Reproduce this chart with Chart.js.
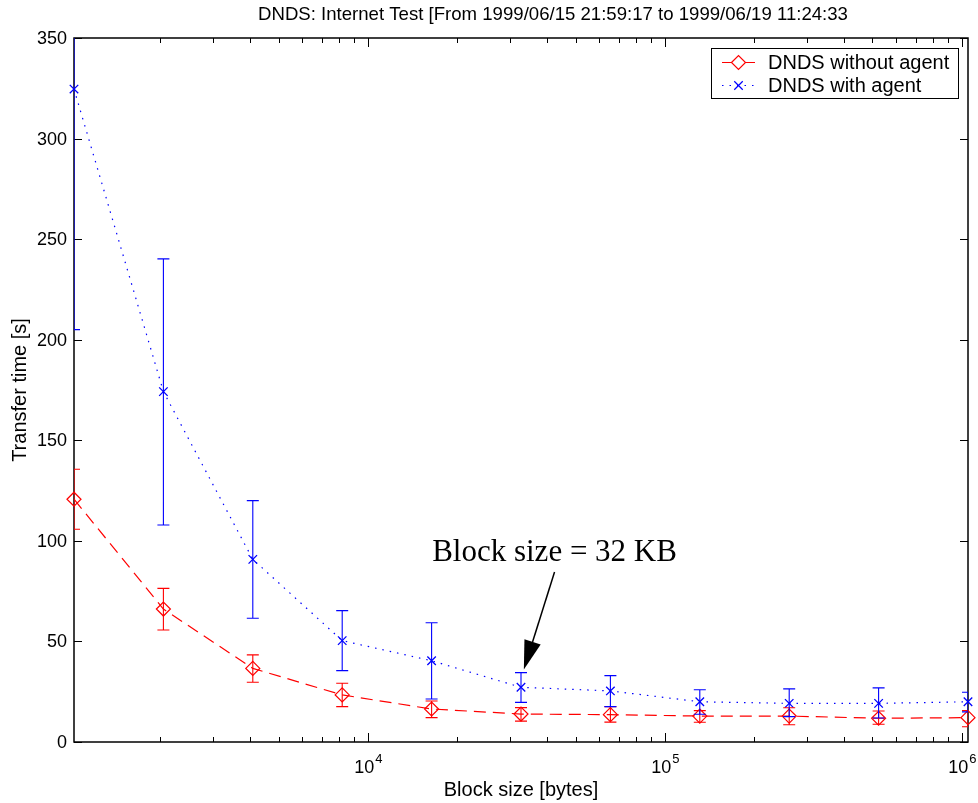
<!DOCTYPE html>
<html>
<head>
<meta charset="utf-8">
<script src="https://cdn.jsdelivr.net/npm/chart.js@4.4.0/dist/chart.umd.min.js"></script>
<style>
  html, body { margin: 0; padding: 0; background: #fff; }
  #wrap { width: 978px; height: 803px; }
</style>
</head>
<body>
<div id="wrap"><canvas id="chart" width="978" height="803"></canvas></div>
<script>
// block sizes in bytes, 1 KB .. 1 MB
const blockSizes = [1024, 2048, 4096, 8192, 16384, 32768, 65536, 131072, 262144, 524288, 1048576]

// transfer time [s]: mean and error bar ends
const noAgentMean = [120.7, 66.1, 36.6, 23.4, 16.4, 13.9, 13.6, 12.9, 12.9, 11.8, 12.1]
const noAgentLow  = [105.8, 55.7, 29.7, 17.6, 12.1, 10.4, 9.9, 9.8, 8.6, 8.8, 7.6]
const noAgentHigh = [135.6, 76.4, 43.3, 29.2, 20.4, 17.1, 17.6, 15.6, 17.0, 15.4, 15.6]

const agentMean = [324.6, 174.2, 90.8, 50.4, 40.4, 27.2, 25.4, 20.0, 19.2, 19.2, 20.0]
const agentLow  = [205.0, 107.9, 61.5, 35.5, 21.4, 19.7, 17.6, 13.8, 12.6, 11.9, 15.0]
const agentHigh = [445.0, 240.2, 120.0, 65.3, 59.3, 34.5, 33.0, 26.0, 26.4, 26.9, 24.7]

const seriesNames = ['DNDS without agent', 'DNDS with agent']
const yTicks = [0, 50, 100, 150, 200, 250, 300, 350]
const xDecades = [4, 5, 6]

const titleText = 'DNDS: Internet Test [From 1999/06/15 21:59:17 to 1999/06/19 11:24:33'
const noteText = 'Block size = 32 KB'
// annotation arrow, in data units
const noteAt = {x: 42500, y: 90}
const arrowFrom = {x: 42500, y: 84.5}
const arrowTo = {x: 33500, y: 36}

const SANS = '"Liberation Sans", Arial, Helvetica, sans-serif'
const SERIF = '"Liberation Serif", "Times New Roman", serif'

function toPoints(ys){
    return blockSizes.map((x, i) => ({x: x, y: ys[i]}))
}

// minor ticks at 2..9 x 10^k inside the axis range
function minorTicks(min, max){
    let out = []
    for(let e = 3; e <= 6; e++){
        for(let m = 1; m <= 9; m++){
            let v = m * Math.pow(10, e)
            if(v >= min && v <= max) out.push({v: v, major: m == 1})
        }
    }
    return out
}

const matlabAxes = {
    id: 'matlabAxes',
    beforeDatasetsDraw(chart){
        let ctx = chart.ctx
        let a = chart.chartArea
        let xs = chart.scales.x, ys = chart.scales.y
        ctx.save()
        ctx.strokeStyle = '#000'
        ctx.lineWidth = 1.5
        ctx.strokeRect(a.left, a.top, a.right - a.left, a.bottom - a.top)

        ctx.lineWidth = 1
        ctx.beginPath()
        for(let t of yTicks){
            let py = Math.round(ys.getPixelForValue(t)) + 0.5
            ctx.moveTo(a.left, py); ctx.lineTo(a.left + 8, py)
            ctx.moveTo(a.right, py); ctx.lineTo(a.right - 8, py)
        }
        for(let t of minorTicks(xs.min, xs.max)){
            let px = Math.round(xs.getPixelForValue(t.v)) + 0.5
            let len = t.major ? 9 : 5
            ctx.moveTo(px, a.bottom); ctx.lineTo(px, a.bottom - len)
            ctx.moveTo(px, a.top); ctx.lineTo(px, a.top + len)
        }
        ctx.stroke()

        // tick labels
        ctx.fillStyle = '#000'
        ctx.font = '18px ' + SANS
        ctx.textAlign = 'right'
        ctx.textBaseline = 'middle'
        for(let t of yTicks){
            ctx.fillText(String(t), a.left - 7, ys.getPixelForValue(t) + 1)
        }
        ctx.textBaseline = 'alphabetic'
        ctx.textAlign = 'left'
        for(let e of xDecades){
            let px = xs.getPixelForValue(Math.pow(10, e))
            ctx.font = '18px ' + SANS
            let wBase = ctx.measureText('10').width
            ctx.font = '13px ' + SANS
            let wExp = ctx.measureText(String(e)).width
            let x0 = px - (wBase + wExp) / 2
            ctx.font = '18px ' + SANS
            ctx.fillText('10', x0, a.bottom + 31)
            ctx.font = '13px ' + SANS
            ctx.fillText(String(e), x0 + wBase + 1, a.bottom + 21)
        }

        // title and axis labels
        let midX = (a.left + a.right) / 2
        ctx.textAlign = 'center'
        ctx.font = '18.6px ' + SANS
        ctx.fillText(titleText, 553, 20)
        ctx.font = '20px ' + SANS
        ctx.fillText('Block size [bytes]', midX, 796)
        ctx.save()
        ctx.translate(26, (a.top + a.bottom) / 2)
        ctx.rotate(-Math.PI / 2)
        ctx.fillText('Transfer time [s]', 0, 0)
        ctx.restore()
        ctx.restore()
    },
    afterDatasetsDraw(chart){
        let ctx = chart.ctx
        let a = chart.chartArea
        let xs = chart.scales.x, ys = chart.scales.y

        // error bars, clipped to the axes box
        ctx.save()
        ctx.beginPath()
        ctx.rect(a.left, a.top, a.right - a.left, a.bottom - a.top)
        ctx.clip()
        ctx.lineWidth = 1.1
        ctx.setLineDash([])
        chart.data.datasets.forEach(ds => {
            ctx.strokeStyle = ds.borderColor
            ctx.beginPath()
            blockSizes.forEach((b, i) => {
                let px = xs.getPixelForValue(b)
                let lo = ys.getPixelForValue(ds.errLow[i])
                let hi = ys.getPixelForValue(ds.errHigh[i])
                ctx.moveTo(px, lo); ctx.lineTo(px, hi)
                ctx.moveTo(px - 6, lo); ctx.lineTo(px + 6, lo)
                ctx.moveTo(px - 6, hi); ctx.lineTo(px + 6, hi)
            })
            ctx.stroke()
        })
        ctx.restore()
    },
    afterDraw(chart){
        let ctx = chart.ctx
        let xs = chart.scales.x, ys = chart.scales.y
        ctx.save()

        // legend box
        let lx = 711, ly = 48, lw = 247, lh = 50
        ctx.fillStyle = '#fff'
        ctx.fillRect(lx, ly, lw, lh)
        ctx.strokeStyle = '#000'
        ctx.lineWidth = 1
        ctx.strokeRect(lx + 0.5, ly + 0.5, lw, lh)
        chart.data.datasets.forEach((ds, i) => {
            let rowY = ly + 14 + i * 23 + 0.5
            ctx.strokeStyle = ds.borderColor
            ctx.lineWidth = 1.2
            ctx.setLineDash(i == 0 ? [] : [1.5, 6])
            ctx.beginPath()
            ctx.moveTo(722, rowY); ctx.lineTo(755, rowY)
            ctx.stroke()
            ctx.setLineDash([])
            Chart.helpers.drawPoint(ctx, {
                pointStyle: ds.pointStyle, radius: ds.pointRadius, borderWidth: 1.2
            }, 738.5, rowY)
            ctx.fillStyle = '#000'
            ctx.font = '20px ' + SANS
            ctx.textAlign = 'left'
            ctx.textBaseline = 'middle'
            ctx.fillText(seriesNames[i], 768, rowY + 1)
        })

        // annotation
        let x1 = xs.getPixelForValue(arrowFrom.x), y1 = ys.getPixelForValue(arrowFrom.y)
        let x2 = xs.getPixelForValue(arrowTo.x), y2 = ys.getPixelForValue(arrowTo.y)
        let ang = Math.atan2(y2 - y1, x2 - x1)
        let headLen = 29, headW = 8.5
        let bx = x2 - headLen * Math.cos(ang), by = y2 - headLen * Math.sin(ang)
        ctx.strokeStyle = '#000'
        ctx.fillStyle = '#000'
        ctx.lineWidth = 1.5
        ctx.beginPath()
        ctx.moveTo(x1, y1); ctx.lineTo(bx, by)
        ctx.stroke()
        ctx.beginPath()
        ctx.moveTo(x2, y2)
        ctx.lineTo(bx + headW * Math.sin(ang), by - headW * Math.cos(ang))
        ctx.lineTo(bx - headW * Math.sin(ang), by + headW * Math.cos(ang))
        ctx.closePath()
        ctx.fill()

        ctx.font = '31px ' + SERIF
        ctx.textAlign = 'center'
        ctx.textBaseline = 'alphabetic'
        ctx.fillText(noteText, xs.getPixelForValue(noteAt.x), ys.getPixelForValue(noteAt.y))
        ctx.restore()
    }
}

let chartCtx = document.getElementById('chart')
new Chart(chartCtx, {
    type: 'line',
    data: {
        datasets: [{
            label: seriesNames[0],
            data: toPoints(noAgentMean),
            errLow: noAgentLow,
            errHigh: noAgentHigh,
            borderColor: '#ff0000',
            borderWidth: 1.2,
            borderDash: [12, 7],
            pointStyle: 'rectRot',
            pointRadius: 7,
            pointBorderColor: '#ff0000',
            pointBackgroundColor: 'rgba(0,0,0,0)',
            pointBorderWidth: 1.2,
            clip: false
        }, {
            label: seriesNames[1],
            data: toPoints(agentMean),
            errLow: agentLow,
            errHigh: agentHigh,
            borderColor: '#0000ff',
            borderWidth: 1.2,
            borderDash: [1.5, 6],
            pointStyle: 'crossRot',
            pointRadius: 6,
            pointBorderColor: '#0000ff',
            pointBackgroundColor: 'rgba(0,0,0,0)',
            pointBorderWidth: 1.3,
            clip: false
        }]
    },
    options: {
        responsive: false,
        animation: false,
        devicePixelRatio: 1,
        events: [],
        layout: { padding: { left: 74, top: 38, right: 10, bottom: 61 } },
        scales: {
            x: { type: 'logarithmic', min: 1024, max: 1048576, display: false },
            y: { type: 'linear', min: 0, max: 350, display: false }
        },
        plugins: {
            legend: { display: false },
            title: { display: false },
            tooltip: { enabled: false }
        }
    },
    plugins: [matlabAxes]
})
</script>
</body>
</html>
